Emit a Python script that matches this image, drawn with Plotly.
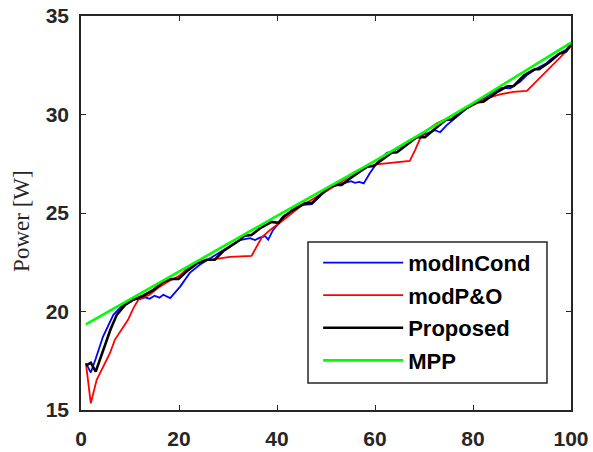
import plotly.graph_objects as go

# ---- data ----
mpp_x = [1, 20, 40, 60, 80, 100]
mpp_y = [19.35, 22.05, 24.85, 27.65, 30.58, 33.65]

prop_x = [1, 2, 3, 4.5, 6, 7.3, 9, 10.7, 12.7, 14.8, 16.8, 18.2, 19.9, 21.6, 23.6, 25.6,
          27.3, 29, 31.1, 32.4, 33.4, 34.8, 36.5, 38.9, 40.3, 41.3, 43.3, 45.7, 47.1, 48.8,
          50.8, 52.2, 53.2, 54.9, 56.9, 58.4, 59.7, 61.3, 63.4, 64.5, 66.5, 68.5, 70.2, 72.4,
          74.4, 75.6, 78.5, 80.7, 82.1, 84.8, 86.9, 88.3, 90.5, 92.6, 93.5, 95.7, 97.6, 99.0,
          100]
prop_y = [17.25, 17.4, 16.95, 18.05, 19.07, 19.83, 20.34, 20.6, 20.8, 21.1, 21.5, 21.65,
          21.65, 22.04, 22.43, 22.63, 22.63, 23.06, 23.4, 23.63, 23.85, 23.88, 24.22, 24.55,
          24.5, 24.81, 25.15, 25.5, 25.5, 25.91, 26.33, 26.42, 26.42, 26.76, 27.1, 27.35,
          27.38, 27.68, 28.06, 28.08, 28.45, 28.85, 28.85, 29.3, 29.72, 29.75, 30.3, 30.62,
          30.65, 31.12, 31.42, 31.45, 32.0, 32.3, 32.3, 32.68, 33.08, 33.2, 33.58]

inc_x = [1, 2, 3, 4.5, 6.6, 8.6, 10.7, 12, 13, 14, 15, 16, 16.8, 18.2, 20.2, 22.2, 24.3, 27,
         29, 31.8, 32.4, 34.5, 35.5, 36.5, 37.6, 38.2, 39.2, 41.0, 43, 45, 47.1, 49.4, 51.5,
         52.5, 53.4, 54.2, 55.1, 55.9, 56.8, 57.7, 59.0, 60.7, 62.4, 63.7, 65.1, 67.1, 69.9,
         71.2, 72.2, 73.3, 74.6, 76.3, 78.7, 80.8, 82.5, 84.8, 85.8, 87.6, 89.6, 91, 93, 95,
         96.1, 97.8, 99, 100]
inc_y = [17.38, 16.9, 17.6, 18.73, 19.83, 20.34, 20.63, 20.63, 20.72, 20.65, 20.8, 20.7,
         20.85, 20.68, 21.25, 21.96, 22.38, 22.8, 23.14, 23.57, 23.63, 23.72, 23.63, 23.75,
         23.82, 23.65, 24.14, 24.65, 25.15, 25.4, 25.45, 26.0, 26.4, 26.55, 26.5, 26.55,
         26.62, 26.53, 26.58, 26.5, 27.04, 27.64, 28.06, 28.14, 28.35, 28.7, 29.0, 29.1,
         29.2, 29.1, 29.45, 29.8, 30.3, 30.65, 30.85, 31.25, 31.35, 31.33, 31.66, 32.0,
         32.33, 32.6, 32.85, 33.12, 33.28, 33.6]

po_x = [1, 2, 3.2, 4.5, 5.9, 6.9, 8.3, 9.6, 10.7, 11.7, 12.6, 14, 16, 18, 20, 22.2, 24.3, 27,
        30.4, 34.8, 35.9, 36.9, 38.6, 41.3, 44.7, 48, 50.5, 52.9, 55.6, 57.6, 60.3,
        63.1, 65.1, 67.1, 68.2, 69.2, 70.6, 72.6, 74.6, 77.3, 80.1, 82.8, 85.5, 88.2, 91, 100]
po_y = [17.38, 15.34, 16.53, 17.2, 17.88, 18.56, 19.07, 19.58, 20.17, 20.6, 20.7, 20.85,
        21.25, 21.55, 21.8, 22.3, 22.55, 22.66, 22.77, 22.82, 23.31, 23.77, 24.14, 24.64,
        25.32, 25.8, 26.15, 26.53, 27.04, 27.28, 27.47, 27.55, 27.6, 27.64, 28.2,
        28.78, 29.2, 29.55, 29.78, 30.15, 30.48, 30.82, 31.02, 31.15, 31.2, 33.45]

x_ticks = [0, 20, 40, 60, 80, 100]
y_ticks = [15, 20, 25, 30, 35]
y_title = "Power [W]"

series = [
    ("modInCond", inc_x, inc_y, "#0000FF", 1.8),
    ("modP&O", po_x, po_y, "#FF0000", 1.8),
    ("Proposed", prop_x, prop_y, "#000000", 2.6),
    ("MPP", mpp_x, mpp_y, "#00FF00", 2.6),
]

fig = go.Figure()
for name, xs, ys, col, w in series:
    fig.add_trace(go.Scatter(x=xs, y=ys, mode="lines", name=name, legendgroup=name,
                             line=dict(color=col, width=w)))

axis_common = dict(showgrid=False, zeroline=False, showline=True, linecolor="#262626",
                   linewidth=1.5, mirror="ticks", ticks="inside", ticklen=5,
                   tickcolor="#262626", tickwidth=1, automargin=False,
                   tickfont=dict(family="Liberation Sans, Arial", size=21,
                                 color="#262626", weight="bold"))

fig.update_xaxes(range=[0, 100], tickvals=x_ticks, ticklabelstandoff=9, **axis_common)
fig.update_yaxes(range=[15, 35], tickvals=y_ticks, ticklabelstandoff=6, **axis_common)

# y-axis label
fig.add_annotation(text=y_title, xref="paper", yref="paper", x=-0.1204, y=0.48,
                   textangle=-90, showarrow=False, xanchor="center", yanchor="middle",
                   font=dict(family="Liberation Serif, Times New Roman", size=23,
                             color="#262626"))

# legend frame (paper coordinates)
fig.add_shape(type="rect", xref="paper", yref="paper",
              x0=0.4633, x1=0.951, y0=0.0685, y1=0.4264,
              line=dict(color="#262626", width=1.5), fillcolor="white", layer="above")

fig.update_layout(
    width=593, height=452,
    margin=dict(l=81, r=22, t=16, b=42),
    plot_bgcolor="white", paper_bgcolor="white",
    showlegend=True,
    legend=dict(x=0.484, y=0.427, xanchor="left", yanchor="top",
                bgcolor="rgba(0,0,0,0)", borderwidth=0,
                font=dict(family="Liberation Sans, Arial", size=22, color="#000000",
                          weight="bold"),
                itemwidth=80, tracegroupgap=1),
)

fig.write_html("out.html")
